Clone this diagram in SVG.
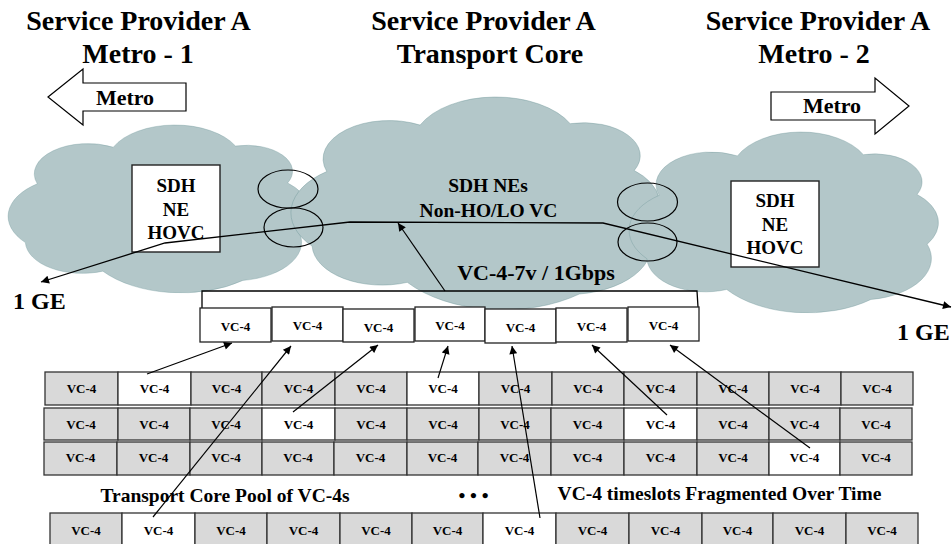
<svg xmlns="http://www.w3.org/2000/svg" width="952" height="544" viewBox="0 0 952 544">
  <defs>
    <style>
      text { font-family: "Liberation Serif", "Times New Roman", serif; font-weight: bold; fill: #000; }
      .title { font-size: 28px; text-anchor: middle; }
      .big { font-size: 22px; text-anchor: middle; }
      .ne { font-size: 19px; text-anchor: middle; }
      .lbl { font-size: 19.5px; text-anchor: middle; }
      .ge { font-size: 24px; }
      .cell { font-size: 13px; text-anchor: middle; }
      .cloud { fill: #b3c7c9; stroke: #6f9799; stroke-width: 1.5; vector-effect: non-scaling-stroke; }
      .ring { fill: none; stroke: #000; stroke-width: 1.2; }
      .box { fill: #fff; stroke: #222; stroke-width: 1.4; }
      .slot { fill: #fff; stroke: #222; stroke-width: 1.3; }
      .g { fill: #d9d9d9; stroke: #333; stroke-width: 1.3; }
      .w { fill: #fff; stroke: #333; stroke-width: 1.3; }
      .wire { fill: none; stroke: #000; stroke-width: 1.3; }
      .arrow { fill: none; stroke: #000; stroke-width: 1.2; marker-end: url(#ah); }
      .blk { fill: #fff; stroke: #000; stroke-width: 1.2; }
    </style>
    <marker id="ah" viewBox="0 0 10 10" refX="10" refY="5" markerWidth="11" markerHeight="8" markerUnits="userSpaceOnUse" orient="auto-start-reverse">
      <path d="M0,0 L10,5 L0,10 Z" fill="#000"/>
    </marker>
    <!-- cloud outline in a 1000 x 1000 unit box -->
    <path id="cloudShape" d="M95,350 A180,180 0 0 1 350,132 A228,228 0 0 1 760,125 A155,155 0 0 1 935,345 A210,210 0 0 1 968,620 A229,229 0 0 1 785,925 A330,330 0 0 1 315,870 A191,191 0 0 1 55,700 A240,240 0 0 1 95,350 Z"/>
  </defs>

  <rect width="952" height="544" fill="#fff"/>

  <!-- section titles -->
  <g id="titles">
    <text class="title" x="138.5" y="30">Service Provider A</text>
    <text class="title" x="138" y="63">Metro - 1</text>
    <text class="title" x="483.5" y="30">Service Provider A</text>
    <text class="title" x="490" y="63">Transport Core</text>
    <text class="title" x="818" y="30">Service Provider A</text>
    <text class="title" x="814" y="63">Metro - 2</text>
  </g>

  <!-- direction block arrows -->
  <g id="metro-left">
    <polygon class="blk" points="48,97 83,69 83,83 186,83 186,111 83,111 83,125"/>
    <text class="big" x="125" y="105">Metro</text>
  </g>
  <g id="metro-right">
    <polygon class="blk" points="771,92 875,92 875,78 909,106 875,134 875,120 771,120"/>
    <text class="big" x="832" y="113">Metro</text>
  </g>

  <!-- network clouds -->
  <g id="cloud-metro-1">
    <use href="#cloudShape" class="cloud" transform="translate(9,125) scale(0.298,0.168)"/>
  </g>
  <g id="cloud-core">
    <use href="#cloudShape" class="cloud" transform="translate(292,97) scale(0.366,0.213)"/>
  </g>
  <g id="cloud-metro-2">
    <use href="#cloudShape" class="cloud" transform="translate(630,132) scale(0.307,0.181)"/>
  </g>

  <!-- interconnect rings -->
  <g id="rings-left">
    <ellipse class="ring" cx="288" cy="189" rx="30" ry="19"/>
    <ellipse class="ring" cx="293.5" cy="227.5" rx="29.5" ry="19.5"/>
  </g>
  <g id="rings-right">
    <ellipse class="ring" cx="647.5" cy="202" rx="30" ry="19"/>
    <ellipse class="ring" cx="647.5" cy="242" rx="29.5" ry="19"/>
  </g>

  <!-- network elements -->
  <g id="ne-metro-1">
    <rect class="box" x="132" y="165" width="88" height="87"/>
    <text class="ne" x="176" y="192">SDH</text>
    <text class="ne" x="176" y="216">NE</text>
    <text class="ne" x="176" y="239">HOVC</text>
  </g>
  <g id="ne-core">
    <text class="lbl" x="488" y="192">SDH NEs</text>
    <text class="lbl" x="488.5" y="217">Non-HO/LO VC</text>
  </g>
  <g id="ne-metro-2">
    <rect class="box" x="731" y="181" width="88" height="86"/>
    <text class="ne" x="775" y="207">SDH</text>
    <text class="ne" x="775" y="231">NE</text>
    <text class="ne" x="775" y="254">HOVC</text>
  </g>

  <!-- end points -->
  <g id="ge-left"><text class="ge" x="13" y="309">1 GE</text></g>
  <g id="ge-right"><text class="ge" x="897" y="340">1 GE</text></g>

  <!-- virtual concatenation group -->
  <g id="vcg">
    <polyline class="wire" points="202,308 202,291 697,291 698,307"/>
    <text class="big" x="536" y="280">VC-4-7v / 1Gbps</text>
    <rect class="slot" x="200" y="308" width="71" height="34"/><text class="cell" x="235.5" y="330.5">VC-4</text>
    <rect class="slot" x="272" y="307" width="71" height="34"/><text class="cell" x="307.5" y="329.5">VC-4</text>
    <rect class="slot" x="343" y="309" width="71" height="33"/><text class="cell" x="378.5" y="331.5">VC-4</text>
    <rect class="slot" x="415" y="307" width="70" height="34"/><text class="cell" x="450" y="329.5">VC-4</text>
    <rect class="slot" x="485" y="309" width="71" height="34"/><text class="cell" x="520.5" y="331.5">VC-4</text>
    <rect class="slot" x="556" y="308" width="71" height="34"/><text class="cell" x="591.5" y="330.5">VC-4</text>
    <rect class="slot" x="628" y="307" width="71" height="34"/><text class="cell" x="663.5" y="329.5">VC-4</text>
  </g>

  <!-- transport core pool, row 1 -->
  <g id="pool-row-1">
    <rect class="g" x="45" y="372" width="73" height="33"/><text class="cell" x="81.5" y="393">VC-4</text>
    <rect class="w" x="118" y="372" width="73" height="33"/><text class="cell" x="154.5" y="393">VC-4</text>
    <rect class="g" x="191" y="372" width="71" height="33"/><text class="cell" x="226.5" y="393">VC-4</text>
    <rect class="g" x="262" y="372" width="73" height="33"/><text class="cell" x="298.5" y="393">VC-4</text>
    <rect class="g" x="335" y="372" width="72" height="33"/><text class="cell" x="371" y="393">VC-4</text>
    <rect class="w" x="407" y="372" width="72" height="33"/><text class="cell" x="443" y="393">VC-4</text>
    <rect class="g" x="479" y="372" width="73" height="33"/><text class="cell" x="515.5" y="393">VC-4</text>
    <rect class="g" x="552" y="372" width="72" height="33"/><text class="cell" x="588" y="393">VC-4</text>
    <rect class="g" x="624" y="372" width="73" height="33"/><text class="cell" x="660.5" y="393">VC-4</text>
    <rect class="g" x="697" y="372" width="72" height="33"/><text class="cell" x="733" y="393">VC-4</text>
    <rect class="g" x="769" y="372" width="72" height="33"/><text class="cell" x="805" y="393">VC-4</text>
    <rect class="g" x="841" y="372" width="72" height="33"/><text class="cell" x="877" y="393">VC-4</text>
  </g>

  <!-- row 2 -->
  <g id="pool-row-2">
    <rect class="g" x="44" y="408" width="74" height="32"/><text class="cell" x="81" y="429">VC-4</text>
    <rect class="g" x="118" y="408" width="72" height="32"/><text class="cell" x="154" y="429">VC-4</text>
    <rect class="g" x="190" y="408" width="72" height="32"/><text class="cell" x="226" y="429">VC-4</text>
    <rect class="w" x="262" y="408" width="73" height="32"/><text class="cell" x="298.5" y="429">VC-4</text>
    <rect class="g" x="335" y="408" width="72" height="32"/><text class="cell" x="371" y="429">VC-4</text>
    <rect class="g" x="407" y="408" width="72" height="32"/><text class="cell" x="443" y="429">VC-4</text>
    <rect class="g" x="479" y="408" width="72" height="32"/><text class="cell" x="515" y="429">VC-4</text>
    <rect class="g" x="551" y="408" width="73" height="32"/><text class="cell" x="587.5" y="429">VC-4</text>
    <rect class="w" x="624" y="408" width="73" height="32"/><text class="cell" x="660.5" y="429">VC-4</text>
    <rect class="g" x="697" y="408" width="72" height="32"/><text class="cell" x="733" y="429">VC-4</text>
    <rect class="g" x="769" y="408" width="71" height="32"/><text class="cell" x="804.5" y="429">VC-4</text>
    <rect class="g" x="840" y="408" width="72" height="32"/><text class="cell" x="876" y="429">VC-4</text>
  </g>

  <!-- row 3 -->
  <g id="pool-row-3">
    <rect class="g" x="44" y="442" width="73" height="33"/><text class="cell" x="80.5" y="462">VC-4</text>
    <rect class="g" x="117" y="442" width="73" height="33"/><text class="cell" x="153.5" y="462">VC-4</text>
    <rect class="g" x="190" y="442" width="72" height="33"/><text class="cell" x="226" y="462">VC-4</text>
    <rect class="g" x="262" y="442" width="72" height="33"/><text class="cell" x="298" y="462">VC-4</text>
    <rect class="g" x="334" y="442" width="73" height="33"/><text class="cell" x="370.5" y="462">VC-4</text>
    <rect class="g" x="407" y="442" width="71" height="33"/><text class="cell" x="442.5" y="462">VC-4</text>
    <rect class="g" x="478" y="442" width="73" height="33"/><text class="cell" x="514.5" y="462">VC-4</text>
    <rect class="g" x="551" y="442" width="73" height="33"/><text class="cell" x="587.5" y="462">VC-4</text>
    <rect class="g" x="624" y="442" width="73" height="33"/><text class="cell" x="660.5" y="462">VC-4</text>
    <rect class="g" x="697" y="442" width="72" height="33"/><text class="cell" x="733" y="462">VC-4</text>
    <rect class="w" x="769" y="442" width="71" height="33"/><text class="cell" x="804.5" y="462">VC-4</text>
    <rect class="g" x="840" y="442" width="72" height="33"/><text class="cell" x="876" y="462">VC-4</text>
  </g>

  <!-- pool captions -->
  <g id="captions">
    <text class="lbl" x="225" y="502">Transport Core Pool of VC-4s</text>
    <text class="lbl" x="473.5" y="502">• • •</text>
    <text class="lbl" x="719.5" y="500">VC-4 timeslots Fragmented Over Time</text>
  </g>

  <!-- row 4 -->
  <g id="pool-row-4">
    <rect class="g" x="50" y="513" width="72" height="33"/><text class="cell" x="86" y="535">VC-4</text>
    <rect class="w" x="122" y="513" width="73" height="33"/><text class="cell" x="158.5" y="535">VC-4</text>
    <rect class="g" x="195" y="513" width="72" height="33"/><text class="cell" x="231" y="535">VC-4</text>
    <rect class="g" x="267" y="513" width="73" height="33"/><text class="cell" x="303.5" y="535">VC-4</text>
    <rect class="g" x="340" y="513" width="72" height="33"/><text class="cell" x="376" y="535">VC-4</text>
    <rect class="g" x="412" y="513" width="71" height="33"/><text class="cell" x="447.5" y="535">VC-4</text>
    <rect class="w" x="483" y="513" width="73" height="33"/><text class="cell" x="519.5" y="535">VC-4</text>
    <rect class="g" x="556" y="513" width="73" height="33"/><text class="cell" x="592.5" y="535">VC-4</text>
    <rect class="g" x="629" y="513" width="73" height="33"/><text class="cell" x="665.5" y="535">VC-4</text>
    <rect class="g" x="702" y="513" width="71" height="33"/><text class="cell" x="737.5" y="535">VC-4</text>
    <rect class="g" x="773" y="513" width="73" height="33"/><text class="cell" x="809.5" y="535">VC-4</text>
    <rect class="g" x="846" y="513" width="72" height="33"/><text class="cell" x="882" y="535">VC-4</text>
  </g>

  <!-- connectors -->
  <g id="connectors">
    <polyline class="wire" points="41,282 165,243 350,222 603,223 951,307" marker-start="url(#ah)" marker-end="url(#ah)"/>
    <line class="arrow" x1="445" y1="291" x2="398" y2="223"/>
    <line class="arrow" x1="147" y1="374" x2="232" y2="343"/>
    <line class="arrow" x1="153" y1="517" x2="291" y2="346"/>
    <line class="arrow" x1="293" y1="412" x2="378" y2="345"/>
    <line class="arrow" x1="438" y1="378" x2="448" y2="346"/>
    <line class="arrow" x1="540" y1="518" x2="512" y2="346"/>
    <line class="arrow" x1="667" y1="415" x2="592" y2="345"/>
    <line class="arrow" x1="810" y1="448" x2="670" y2="345"/>
  </g>
</svg>
